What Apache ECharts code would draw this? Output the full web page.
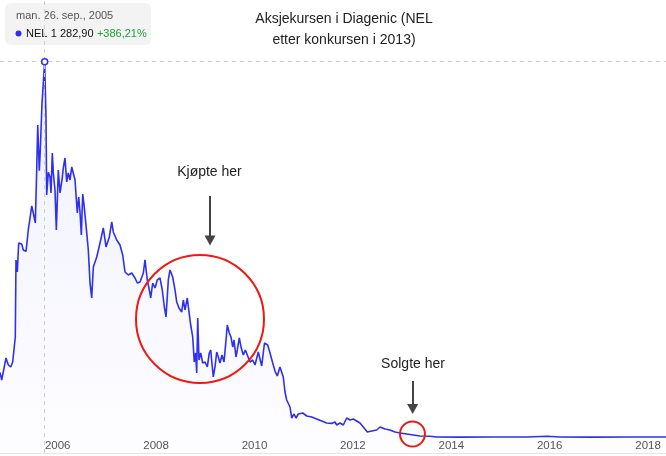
<!DOCTYPE html>
<html>
<head>
<meta charset="utf-8">
<script src="https://cdn.jsdelivr.net/npm/echarts@6/dist/echarts.min.js"></script>
<style>
html,body{margin:0;padding:0;background:#fff;}
#chart{width:666px;height:456px;}
</style>
</head>
<body>
<div id="chart"></div>
<script>
// Dates as decimal years
const years = [
2004.827,2004.862,2004.909,2004.949,2004.996,2005.045,2005.085,2005.112,2005.138,2005.152,
2005.179,2005.207,2005.268,2005.301,2005.356,2005.402,2005.437,2005.472,2005.504,2005.545,
2005.573,2005.594,2005.626,2005.646,2005.681,2005.735,2005.748,2005.762,2005.776,2005.809,
2005.843,2005.864,2005.890,2005.911,2005.945,2005.972,2006.012,2006.047,2006.087,2006.114,
2006.148,2006.183,2006.215,2006.250,2006.285,2006.317,2006.352,2006.398,2006.427,2006.453,
2006.480,2006.508,2006.535,2006.575,2006.622,2006.657,2006.691,2006.724,2006.793,2006.860,
2006.927,2006.982,2007.049,2007.098,2007.130,2007.199,2007.266,2007.321,2007.368,2007.435,
2007.504,2007.571,2007.618,2007.673,2007.740,2007.774,2007.821,2007.862,2007.890,2007.931,
2007.978,2008.024,2008.079,2008.126,2008.167,2008.201,2008.248,2008.283,2008.337,2008.384,
2008.419,2008.465,2008.520,2008.553,2008.587,2008.634,2008.669,2008.703,2008.744,2008.776,
2008.805,2008.825,2008.846,2008.872,2008.907,2008.947,2008.994,2009.041,2009.081,2009.110,
2009.142,2009.163,2009.197,2009.232,2009.264,2009.299,2009.339,2009.380,2009.421,2009.447,
2009.488,2009.522,2009.557,2009.583,2009.624,2009.650,2009.691,2009.726,2009.772,2009.813,
2009.854,2009.909,2009.963,2010.010,2010.077,2010.146,2010.203,2010.268,2010.315,2010.370,
2010.417,2010.463,2010.518,2010.553,2010.585,2010.620,2010.654,2010.687,2010.722,2010.756,
2010.803,2010.843,2010.890,2010.980,2011.061,2011.163,2011.264,2011.366,2011.467,2011.569,
2011.636,2011.671,2011.738,2011.805,2011.874,2011.941,2012.008,2012.077,2012.144,2012.211,
2012.293,2012.382,2012.484,2012.551,2012.652,2012.754,2012.856,2012.957,2013.093,2013.228,
2013.364,2013.567,2013.703,2014.177,2014.848,2015.539,2015.945,2016.209,2016.880,2017.571,
2018.364
];
const prices = [
263.856,239.3,278.7,311.5,288.5,282.0,298.3,295.1,380.3,632.8,
593.4,688.5,685.2,665.5,661,731.1,770.4,809.8,786.8,754.1,
927.8,1075.3,925,993.4,1147.5,1282.9,1190.1,1101.6,845.9,920,
905,852.4,983.6,918,862.2,731.1,927.8,852.4,895.0,934.4,
967.2,888.5,918,895,937.7,944.2,895,786.8,839.3,790.1,
714.7,849.1,813.1,747.5,665.5,557.3,508.2,609.8,642.6,688.5,
737.7,675.4,708.2,757.3,724.5,698.3,681.9,649.1,593.4,583.6,
590.1,573.7,557.3,560.6,590.1,632.8,567.2,534.4,508.2,557.3,
541,567.2,573.7,534.4,478.7,445.9,567.2,600,577,534.4,
495.1,475.4,462.3,501.6,468.8,508.2,462.3,419.6,380.3,298.3,
327.9,262.3,442.6,304.9,327.9,295.1,298.3,282,327.9,337.7,
282,249.2,282,331.1,314.7,295.1,321.3,298.3,370.5,419.6,
393.4,380.3,347.5,370.5,314.7,337.7,377,347.5,321.3,337.7,
321.3,298.3,304.9,288.5,331.1,285.2,360.6,354.1,327.9,295.1,
268.8,252.4,282,288.5,249.2,200,173.8,177,150.8,114.7,
127.9,114.7,127.9,131.1,121.3,118,111.5,104.9,98.4,97,
101.6,91.8,98.4,91.8,114.7,108.2,111.5,104.9,98.4,85.2,
68.8,72.1,75.4,85.2,78.7,75.4,68.8,65.6,62.3,59,
55.7,55,52.5,52,52.3,52.5,55,52.4,52.2,52.6,
52.4
];
const tickYears = [2006, 2008, 2010, 2012, 2014, 2016, 2018];
const ticker = 'NEL';
const titleText = 'Aksjekursen i Diagenic (NEL\netter konkursen i 2013)';
// Annotations in data coordinates (decimal year, price)
const noteTexts = ['Kjøpte her', 'Solgte her'];
const noteTextYears = [2009.085, 2013.222];
const noteTextValues = [919.6, 291.8];
const arrowYears = [2009.096, 2013.215];
const arrowFromValues = [842.6, 236];
const arrowToValues = [696.7, 144.3];
const circleYears = [2008.892, 2013.211];
const circleValues = [439.3, 62.3];
const circleSizes = [128, 25];

const xMinYear = 2004.827, xMaxYear = 2018.364;
const yMax = 1485;
function yr(t) {
  const y = Math.floor(t);
  const s = Date.UTC(y, 0, 1), e = Date.UTC(y + 1, 0, 1);
  return s + (t - y) * (e - s);
}
const n = Math.min(years.length, prices.length);
const seriesData = [];
for (let i = 0; i < n; i++) seriesData.push([years[i], prices[i]]);

let pi = 0;
for (let i = 1; i < n; i++) if (prices[i] > prices[pi]) pi = i;
const peakYear = years[pi];
const peakVal = prices[pi];
const pct = (peakVal / prices[0] - 1) * 100;
const noDays = ['søn.', 'man.', 'tir.', 'ons.', 'tor.', 'fre.', 'lør.'];
const noMonths = ['jan.', 'feb.', 'mar.', 'apr.', 'mai', 'jun.', 'jul.', 'aug.', 'sep.', 'okt.', 'nov.', 'des.'];
const pd = new Date(yr(peakYear));
const dateStr = noDays[pd.getUTCDay()] + ' ' + pd.getUTCDate() + '. ' + noMonths[pd.getUTCMonth()] + ', ' + pd.getUTCFullYear();
function noNum(v) {
  const parts = v.toFixed(2).split('.');
  return parts[0].replace(/\B(?=(\d{3})+(?!\d))/g, ' ') + ',' + parts[1];
}
const valStr = noNum(peakVal);
const pctStr = (pct >= 0 ? '+' : '') + noNum(pct) + '%';

const BLUE = '#2f2ff0';
const RED = '#ee1a12';
const FONT = '"Liberation Sans", Arial, Helvetica, sans-serif';

const mpData = [
  { coord: [peakYear, peakVal], symbol: 'circle', symbolSize: 6,
    itemStyle: { color: '#fff', borderColor: BLUE, borderWidth: 1.5 }, label: { show: false } }
];
for (let i = 0; i < circleYears.length; i++) {
  mpData.push({ coord: [circleYears[i], circleValues[i]], symbol: 'circle', symbolSize: circleSizes[i],
    itemStyle: { color: 'rgba(0,0,0,0)', borderColor: RED, borderWidth: 2 }, label: { show: false } });
}
for (let i = 0; i < noteTexts.length; i++) {
  mpData.push({ coord: [noteTextYears[i], noteTextValues[i]], symbol: 'circle', symbolSize: 1,
    itemStyle: { color: 'rgba(0,0,0,0)' },
    label: { show: true, position: 'inside', formatter: noteTexts[i], fontSize: 14, color: '#222', fontFamily: FONT } });
}
const mlData = [
  [{ coord: [peakYear, 0], symbol: 'none' }, { coord: [peakYear, yMax], symbol: 'none' }],
  { yAxis: peakVal }
];
for (let i = 0; i < arrowYears.length; i++) {
  mlData.push([
    { coord: [arrowYears[i], arrowFromValues[i]], symbol: 'none',
      lineStyle: { type: 'solid', color: '#444', width: 2 } },
    { coord: [arrowYears[i], arrowToValues[i]], symbol: 'triangle', symbolSize: [11, 10],
      itemStyle: { color: '#444' } }
  ]);
}

const chart = echarts.init(document.getElementById('chart'), null, { renderer: 'canvas' });
chart.setOption({
  animation: false,
  backgroundColor: '#fff',
  title: {
    text: titleText, left: 344, top: 9, padding: 0, textAlign: 'center',
    textStyle: { fontSize: 14, fontWeight: 'normal', color: '#222', lineHeight: 21, fontFamily: FONT }
  },
  grid: { left: 0, right: 0, top: 0, bottom: 3, containLabel: false },
  xAxis: {
    type: 'value', min: xMinYear, max: xMaxYear,
    axisLine: { show: true, onZero: false, lineStyle: { color: '#e6e6e6', width: 1 } },
    axisTick: { show: false },
    splitLine: { show: false },
    axisLabel: {
      inside: true, margin: 1, color: '#555', fontSize: 11.5, fontFamily: FONT,
      customValues: tickYears,
      formatter: v => String(Math.round(v))
    }
  },
  yAxis: { type: 'value', min: 0, max: yMax, show: false, splitLine: { show: false } },
  series: [{
    type: 'line', data: seriesData, showSymbol: false, symbol: 'none',
    lineStyle: { color: BLUE, width: 1.6 },
    itemStyle: { color: BLUE },
    areaStyle: {
      color: new echarts.graphic.LinearGradient(0, 0, 0, 1, [
        { offset: 0, color: 'rgba(70,80,235,0.12)' },
        { offset: 1, color: 'rgba(70,80,235,0.01)' }
      ])
    },
    markPoint: { silent: true, data: mpData },
    markLine: {
      silent: true, symbol: ['none', 'none'], label: { show: false },
      lineStyle: { type: [4, 4], color: '#d0d0d0', width: 1 },
      data: mlData
    }
  }],
  graphic: [{
    type: 'group', left: 5, top: 3, z: 100,
    children: [
      { type: 'rect', shape: { x: 0, y: 0, width: 146, height: 42, r: 6 }, style: { fill: '#f3f3f3' } },
      { type: 'text', x: 11, y: 12.5, style: { text: dateStr, fill: '#555', font: '11px ' + FONT, verticalAlign: 'middle' } },
      { type: 'circle', shape: { cx: 13.5, cy: 30.5, r: 3 }, style: { fill: BLUE } },
      { type: 'text', x: 21, y: 31, style: {
          text: '{a|' + ticker + '} {a|' + valStr + '} {g|' + pctStr + '}',
          verticalAlign: 'middle',
          rich: {
            a: { fill: '#111', font: '11px ' + FONT },
            g: { fill: '#1fa03a', font: '11px ' + FONT }
          }
        } }
    ]
  }]
});
</script>
</body>
</html>
